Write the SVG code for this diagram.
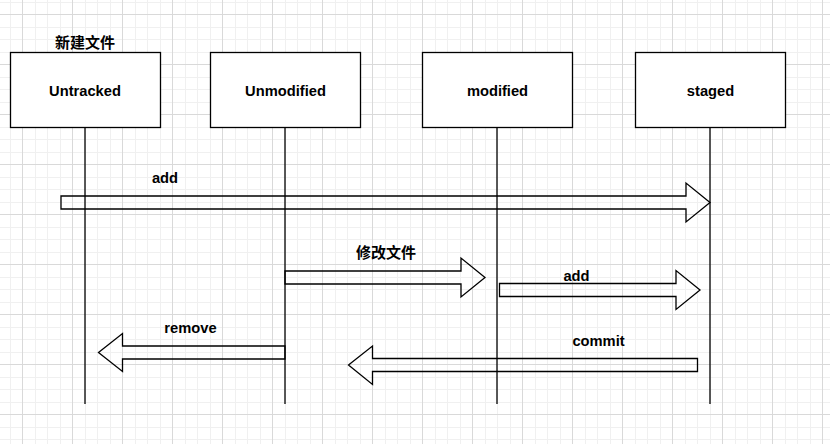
<svg xmlns="http://www.w3.org/2000/svg" width="830" height="444" viewBox="0 0 830 444">
<style>
.box{fill:#fff;stroke:#000;stroke-width:1.3}
.life{stroke:#000;stroke-width:1.3;fill:none}
.arr{fill:none;stroke:#000;stroke-width:1.3;stroke-linejoin:miter}
.t{font-family:"Liberation Sans",Arial,sans-serif;font-weight:bold;font-size:14.7px;fill:#000;text-anchor:middle}
.cjk{font-family:"Liberation Sans","Noto Sans CJK SC",sans-serif;font-weight:bold;font-size:15px;fill:#000;text-anchor:middle}
</style>
<defs>
<pattern id="grid" width="50" height="50" patternUnits="userSpaceOnUse" x="22" y="14">
<rect x="13" y="0" width="1" height="50" fill="#f0f0f0"/>
<rect x="25" y="0" width="1" height="50" fill="#f0f0f0"/>
<rect x="38" y="0" width="1" height="50" fill="#f0f0f0"/>
<rect x="0" y="13" width="50" height="1" fill="#f0f0f0"/>
<rect x="0" y="25" width="50" height="1" fill="#f0f0f0"/>
<rect x="0" y="38" width="50" height="1" fill="#f0f0f0"/>
<rect x="0" y="0" width="1" height="50" fill="#d9d9d9"/>
<rect x="0" y="0" width="50" height="1" fill="#d9d9d9"/>
</pattern>
</defs>
<rect width="830" height="444" fill="#fff"/>
<rect width="830" height="444" fill="url(#grid)"/>

<g id="untracked">
<line class="life" x1="85" y1="127" x2="85" y2="404"/>
<rect class="box" x="10.5" y="52.5" width="150" height="75"/>
<text class="t" x="85" y="95.5">Untracked</text>
<text class="cjk" x="85" y="48">新建文件</text>
</g>
<g id="unmodified">
<line class="life" x1="285" y1="127" x2="285" y2="404"/>
<rect class="box" x="210.5" y="52.5" width="150" height="75"/>
<text class="t" x="285.5" y="95.5">Unmodified</text>
</g>
<g id="modified">
<line class="life" x1="497" y1="127" x2="497" y2="404"/>
<rect class="box" x="422.5" y="52.5" width="150" height="75"/>
<text class="t" x="497.5" y="95.5">modified</text>
</g>
<g id="staged">
<line class="life" x1="710" y1="127" x2="710" y2="404"/>
<rect class="box" x="635.5" y="52.5" width="150" height="75"/>
<text class="t" x="710.5" y="95.5">staged</text>
</g>

<g id="connectors">
<polygon class="arr" points="61,196 686,196 686,183 710,202.5 686,222 686,209 61,209"/>
<text class="t" x="165" y="183">add</text>
<polygon class="arr" points="285,271 461,271 461,258 485,277.5 461,297 461,284 285,284"/>
<text class="cjk" x="386" y="258">修改文件</text>
<polygon class="arr" points="499.5,283.5 676,283.5 676,270.5 700,290 676,309.5 676,296.5 499.5,296.5"/>
<text class="t" x="576.5" y="281">add</text>
<polygon class="arr" points="285,346 122.5,346 122.5,333.5 98.5,352.5 122.5,371.5 122.5,359 285,359"/>
<text class="t" x="190.5" y="333">remove</text>
<polygon class="arr" points="697.5,358.5 372.5,358.5 372.5,346 348.5,365 372.5,384.5 372.5,371.5 697.5,371.5"/>
<text class="t" x="598.5" y="346">commit</text>
</g>
</svg>
